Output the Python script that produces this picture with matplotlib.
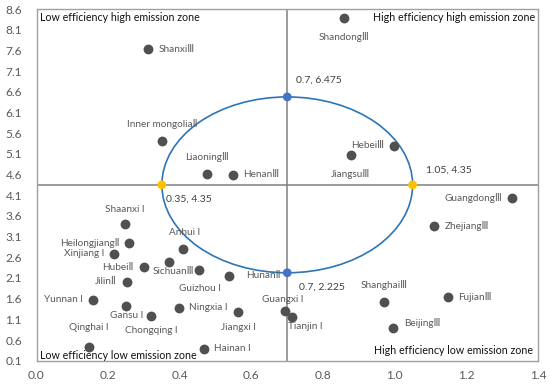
import matplotlib
matplotlib.use("Agg")
import matplotlib.pyplot as plt
from matplotlib.patches import Ellipse
import numpy as np

# ---- data ----
provinces = ["ShanxiⅢ", "Inner mongoliaⅡ", "LiaoningⅢ", "HenanⅢ", "ShandongⅢ",
             "HebeiⅢ", "JiangsuⅢ", "GuangdongⅢ", "ZhejiangⅢ", "ShanghaiⅢ",
             "FujianⅢ", "BeijingⅢ", "Guangxi I", "Tianjin I", "Shaanxi I",
             "HeilongjiangⅡ", "Xinjiang I", "Anhui I", "HubeiⅡ", "SichuanⅢ",
             "Guizhou I", "HunanⅡ", "JilinⅡ", "Yunnan I", "Gansu I",
             "Chongqing I", "Ningxia I", "Jiangxi I", "Qinghai I", "Hainan I"]
efficiency = [0.312, 0.350, 0.475, 0.549, 0.859,
              0.997, 0.878, 1.327, 1.111, 0.971,
              1.149, 0.994, 0.694, 0.712, 0.247,
              0.259, 0.217, 0.410, 0.300, 0.370,
              0.454, 0.538, 0.253, 0.159, 0.250,
              0.320, 0.399, 0.563, 0.147, 0.467]
emission = [7.63, 5.41, 4.61, 4.59, 8.38,
            5.30, 5.06, 4.03, 3.36, 1.53,
            1.64, 0.90, 1.29, 1.16, 3.40,
            2.95, 2.68, 2.79, 2.36, 2.48,
            2.29, 2.15, 2.01, 1.57, 1.43,
            1.19, 1.38, 1.27, 0.44, 0.39]

center_x, center_y = 0.7, 4.35
semi_x, semi_y = 0.35, 2.125
key_x = [0.7, 0.7, 0.35, 1.05]
key_y = [6.475, 2.225, 4.35, 4.35]
key_labels = ["0.7, 6.475", "0.7, 2.225", "0.35, 4.35", "1.05, 4.35"]

zones = ["Low efficiency high emission zone", "High efficiency high emission zone",
         "Low efficiency low emission zone", "High efficiency low emission zone"]

x_ticks = [0.0, 0.2, 0.4, 0.6, 0.8, 1.0, 1.2, 1.4]
y_ticks = [0.1, 0.6, 1.1, 1.6, 2.1, 2.6, 3.1, 3.6, 4.1, 4.6, 5.1, 5.6, 6.1,
           6.6, 7.1, 7.6, 8.1, 8.6]

# ---- label placement styles (pixel offsets) ----
label_pos = [(10, 0, "left"), (0, 17, "center"), (0, 17, "center"), (10, 0, "left"), (0, -19, "center"),
             (-10, 0, "right"), (0, -19, "center"), (-10, 0, "right"), (10, 0, "left"), (0, 17, "center"),
             (10, 0, "left"), (12, 5, "left"), (-2, 12, "center"), (14, -10, "center"), (0, 15, "center"),
             (-10, 0, "right"), (-10, 0, "right"), (1, 17, "center"), (-10, 0, "right"), (4, -9, "center"),
             (1, -18, "center"), (17, 0, "left"), (-10, 0, "right"), (-10, 0, "right"), (1, -10, "center"),
             (0, -15, "center"), (10, 0, "left"), (0, -15, "center"), (0, 19, "center"), (10, 0, "left")]
key_pos = [(9, 12, "left", "bottom"), (12, -10, "left", "top"),
           (4, -10, "left", "top"), (13, 10, "left", "bottom")]

FAM = ["Lato", "DejaVu Sans"]
plt.rcParams["font.family"] = FAM

fig = plt.figure(figsize=(5.5, 3.86), dpi=100)
W, H = 550, 386
renderer = fig.canvas.get_renderer()


def fit_size(text, target_px):
    t = fig.text(0, 0, text, fontsize=10)
    w = t.get_window_extent(renderer).width
    t.remove()
    return 10.0 * target_px / w


zone_fs = fit_size(zones[0], 159)
label_fs = fit_size("Inner mongoliaⅡ", 70)
key_fs = fit_size("0.7, 6.475", 46)
tick_fs = fit_size("0.0", 16.5)

ax = fig.add_axes([36.5 / W, (H - 360.7) / H, (538 - 36.5) / W, (360.7 - 9) / H])
ax.set_xlim(0, 1.4)
ax.set_ylim(0.1, 8.6)

for s in ax.spines.values():
    s.set_color("#a0a0a0")
    s.set_linewidth(1.0)

ax.set_xticks(x_ticks)
ax.set_xticklabels([f"{v:.1f}" for v in x_ticks])
ax.set_yticks(y_ticks)
ax.set_yticklabels([f"{v:.1f}" for v in y_ticks])
ax.tick_params(length=0, labelsize=tick_fs, colors="#595959")
ax.tick_params(axis="y", pad=10.4)
ax.tick_params(axis="x", pad=7)

# crosshair
ax.axvline(center_x, color="#808080", lw=1.1, zorder=1)
ax.axhline(center_y, color="#808080", lw=1.1, zorder=1)

# ellipse
ell = Ellipse((center_x, center_y), 2 * semi_x, 2 * semi_y, fill=False,
              edgecolor="#2E75B6", lw=1.2, zorder=2)
ax.add_patch(ell)

# points
ax.scatter(efficiency, emission, s=50, color="#505050", zorder=3, linewidths=0)
for name, x, y, (dx, dy, ha) in zip(provinces, efficiency, emission, label_pos):
    ax.annotate(name, (x, y), xytext=(dx, dy), textcoords="offset pixels",
                ha=ha, va="center", fontsize=label_fs, color="#595959", zorder=4)

key_colors = ["#4472C4", "#4472C4", "#FFC000", "#FFC000"]
ax.scatter(key_x, key_y, s=40, color=key_colors, zorder=5, linewidths=0)
for lab, x, y, (dx, dy, ha, va) in zip(key_labels, key_x, key_y, key_pos):
    ax.annotate(lab, (x, y), xytext=(dx, dy), textcoords="offset pixels",
                ha=ha, va=va, fontsize=key_fs, color="#404040", zorder=5)

# zone labels
ax.text(0.006, 0.975, zones[0], transform=ax.transAxes, ha="left", va="center",
        fontsize=zone_fs, color="#111111")
ax.text(0.994, 0.975, zones[1], transform=ax.transAxes, ha="right", va="center",
        fontsize=zone_fs, color="#111111")
ax.text(0.006, 0.016, zones[2], transform=ax.transAxes, ha="left", va="center",
        fontsize=zone_fs, color="#111111")
ax.text(0.990, 0.030, zones[3], transform=ax.transAxes, ha="right", va="center",
        fontsize=zone_fs, color="#111111")

fig.savefig("out.png", dpi=100)
